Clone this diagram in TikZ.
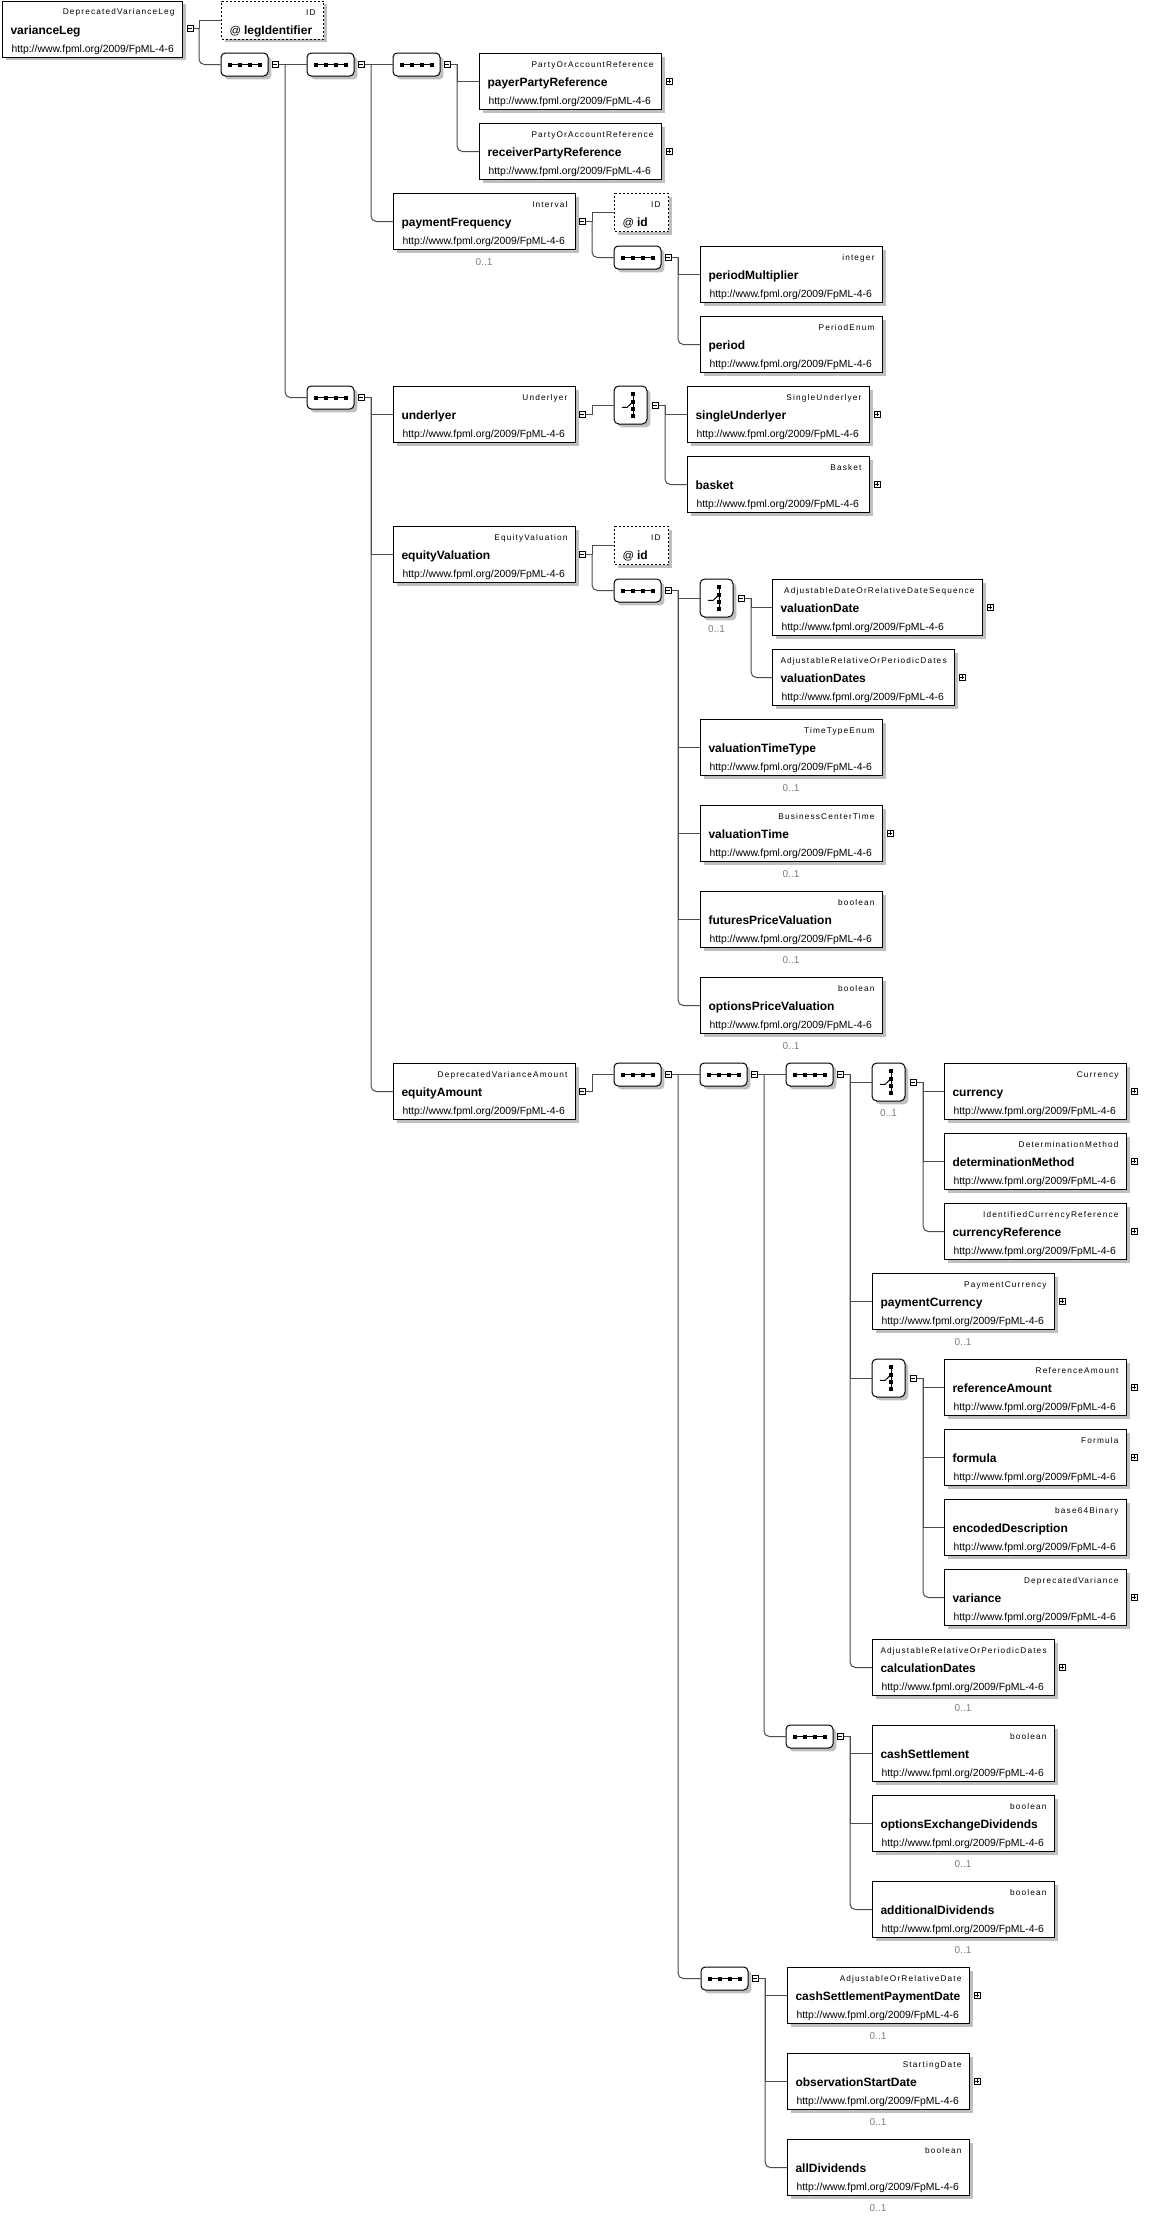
\documentclass[tikz,border=0pt]{standalone}
\usepackage{fontspec}
\setmainfont{Liberation Sans}
\newfontfamily\typefam[LetterSpace=14]{Liberation Sans}
\newcommand\typef{\typefam\fontsize{6.2pt}{7pt}\selectfont}
\newcommand\namef{\fontsize{9pt}{10pt}\selectfont\bfseries}
\newcommand\urlf{\fontsize{7.8pt}{9pt}\selectfont}
\usepackage{tikz}
\usetikzlibrary{shadows}
\pgfdeclarelayer{bg}
\pgfsetlayers{bg,main}

\newcommand\elbox[3][124.5pt]{%
  \vbox to 42pt{\offinterlineskip
    \vskip 10.25pt\hbox to #1{\hfill\smash{\typef #2}}%
    \vskip 14.5pt\hbox to #1{\smash{\namef #3}\hfill}%
    \vskip 13.5pt\hbox to #1{\kern0.75pt\smash{\urlf http://www.fpml.org/2009/FpML-4-6}\hfill}%
    \vss}}
\newcommand\atbox[2]{%
  \vbox to 28.5pt{\offinterlineskip
    \vskip 10.5pt\hbox to #1{\hfill\smash{\typef ID}}%
    \vskip 14.5pt\hbox to #1{\smash{\fontsize{8.5pt}{9pt}\selectfont @\ \namef #2}\hfill}%
    \vss}}

\begin{document}
\begin{tikzpicture}[x=0.75pt, y=-0.75pt,
    boxshadow/.style={drop shadow={shadow xshift=2.6pt, shadow yshift=-2.6pt, opacity=1, fill=black!25}},
    elembox/.style={draw, line width=0.75pt, fill=white, anchor=north west, inner xsep=6pt, inner ysep=0pt, boxshadow},
    attrbox/.style={elembox, dash pattern=on 1.5pt off 1.5pt},
    seqbox/.style={rectangle, rounded corners=3.2pt, draw, line width=0.75pt, fill=white,
        inner sep=0pt, minimum width=35.25pt, minimum height=17.25pt, boxshadow,
        path picture={
          \draw[black, line width=0.75pt, sharp corners] ([xshift=-11.25pt]path picture bounding box.center) -- ([xshift=11.25pt]path picture bounding box.center);
          \foreach \i in {-11.25,-3.75,3.75,11.25}
            \fill[black, sharp corners] ([shift={(\i pt-1.5pt,-1.5pt)}]path picture bounding box.center) rectangle ++(3pt,3pt);}},
    choicebox/.style={rectangle, rounded corners=3.6pt, draw, line width=0.75pt, fill=white,
        inner sep=0pt, minimum width=24.75pt, minimum height=28.5pt, boxshadow,
        path picture={
          \draw[black, line width=0.75pt, sharp corners] ([shift={(2pt,8.6pt)}]path picture bounding box.center) -- ([shift={(2pt,-8.8pt)}]path picture bounding box.center);
          \draw[black, line width=0.75pt, sharp corners] ([shift={(-6.5pt,-1.7pt)}]path picture bounding box.center) -- ([shift={(-2.5pt,-1.7pt)}]path picture bounding box.center) -- ([shift={(2pt,2.6pt)}]path picture bounding box.center);
          \foreach \j in {8.3,2.6,-3,-8.6}
            \fill[black, sharp corners] ([shift={(0.5pt,\j pt-1.5pt)}]path picture bounding box.center) rectangle ++(3pt,3pt);}},
    minusbox/.style={draw, line width=0.75pt, fill=white, inner sep=0pt, minimum size=4.5pt,
        path picture={
          \draw[black, line width=0.75pt] ([xshift=-1.5pt]path picture bounding box.center) -- ([xshift=1.5pt]path picture bounding box.center);}},
    plusbox/.style={draw, line width=0.75pt, fill=white, inner sep=0pt, minimum size=4.5pt,
        path picture={
          \draw[black, line width=0.75pt] ([xshift=-1.5pt]path picture bounding box.center) -- ([xshift=1.5pt]path picture bounding box.center);
          \draw[black, line width=0.75pt] ([yshift=-1.5pt]path picture bounding box.center) -- ([yshift=1.5pt]path picture bounding box.center);}},
    conn/.style={draw=black!70, line width=0.75pt},
    occ/.style={text=black!50, inner sep=0pt, font=\fontsize{7.5pt}{8pt}\selectfont}]

    \useasboundingbox (0,0) rectangle (1167,2217);
    \begin{pgfonlayer}{bg}    % white page behind everything
        \fill [white] (0,0) rectangle (1167,2217);
    \end{pgfonlayer}

    % root and first sequences
    \node [elembox] (leg) at (2,0.5) { \elbox[123pt]{DeprecatedVarianceLeg}{varianceLeg} };
    \node [minusbox] (mLeg) at (190,28.5) {};
    \node [attrbox] (legId) at (221,0.5) { \atbox{64.5pt}{legIdentifier} };
    \node [seqbox] (seq1) at (244.5,64.5) {};
    \node [minusbox] (mSeq1) at (275,64.5) {};
    \node [seqbox] (seq2) at (330.5,64.5) {};
    \node [minusbox] (mSeq2) at (361,64.5) {};
    \node [seqbox] (seq3) at (416.5,64.5) {};
    \node [minusbox] (mSeq3) at (447,64.5) {};
    \node [elembox] (payer) at (479,53) { \elbox{PartyOrAccountReference}{payerPartyReference} };
    \node [plusbox] (pPayer) at (669,81) {};
    \node [elembox] (receiver) at (479,123) { \elbox{PartyOrAccountReference}{receiverPartyReference} };
    \node [plusbox] (pReceiver) at (669,151) {};

    % paymentFrequency
    \node [elembox] (payFreq) at (393,193) { \elbox{Interval}{paymentFrequency} };
    \node [occ] (oPf) at (484,262) {0..1};
    \node [minusbox] (mPf) at (582,221) {};
    \node [attrbox] (pfId) at (614,193) { \atbox{28.5pt}{id} };
    \node [seqbox] (pfSeq) at (637.5,257.5) {};
    \node [minusbox] (mPfSeq) at (668,257.5) {};
    \node [elembox] (perMult) at (700,246) { \elbox{integer}{periodMultiplier} };
    \node [elembox] (period) at (700,316) { \elbox{PeriodEnum}{period} };

    % underlyer
    \node [seqbox] (seqB1) at (330.5,397.5) {};
    \node [minusbox] (mSeqB1) at (361,397.5) {};
    \node [elembox] (underlyer) at (393,386) { \elbox{Underlyer}{underlyer} };
    \node [minusbox] (mUnd) at (582,414) {};
    \node [choicebox] (chU) at (630.5,405) {};
    \node [minusbox] (mChU) at (655,405) {};
    \node [elembox] (single) at (687,386) { \elbox{SingleUnderlyer}{singleUnderlyer} };
    \node [plusbox] (pSingle) at (877,414) {};
    \node [elembox] (basket) at (687,456) { \elbox{Basket}{basket} };
    \node [plusbox] (pBasket) at (877,484) {};

    % equityValuation
    \node [elembox] (eqVal) at (393,526) { \elbox{EquityValuation}{equityValuation} };
    \node [minusbox] (mEv) at (582,554) {};
    \node [attrbox] (evId) at (614,526) { \atbox{28.5pt}{id} };
    \node [seqbox] (evSeq) at (637.5,590.5) {};
    \node [minusbox] (mEvSeq) at (668,590.5) {};
    \node [choicebox] (chV) at (716.5,598) {};
    \node [occ] (oChV) at (716.5,629) {0..1};
    \node [minusbox] (mChV) at (741,598) {};
    \node [elembox] (valDate) at (772,579) { \elbox[145.5pt]{AdjustableDateOrRelativeDateSequence}{valuationDate} };
    \node [plusbox] (pValDate) at (990,607) {};
    \node [elembox] (valDates) at (772,649) { \elbox{AdjustableRelativeOrPeriodicDates}{valuationDates} };
    \node [plusbox] (pValDates) at (962,677) {};
    \node [elembox] (valTT) at (700,719) { \elbox{TimeTypeEnum}{valuationTimeType} };
    \node [occ] (oVtt) at (791,788) {0..1};
    \node [elembox] (valTime) at (700,805) { \elbox{BusinessCenterTime}{valuationTime} };
    \node [plusbox] (pValTime) at (890,833) {};
    \node [occ] (oVt) at (791,874) {0..1};
    \node [elembox] (futPV) at (700,891) { \elbox{boolean}{futuresPriceValuation} };
    \node [occ] (oFpv) at (791,960) {0..1};
    \node [elembox] (optPV) at (700,977) { \elbox{boolean}{optionsPriceValuation} };
    \node [occ] (oOpv) at (791,1046) {0..1};

    % equityAmount
    \node [elembox] (eqAmt) at (393,1063) { \elbox{DeprecatedVarianceAmount}{equityAmount} };
    \node [minusbox] (mEa) at (582,1091) {};
    \node [seqbox] (seqA) at (637.5,1074.5) {};
    \node [minusbox] (mSeqA) at (668,1074.5) {};
    \node [seqbox] (seqB) at (723.5,1074.5) {};
    \node [minusbox] (mSeqB) at (754,1074.5) {};
    \node [seqbox] (seqC) at (809.5,1074.5) {};
    \node [minusbox] (mSeqC) at (840,1074.5) {};
    \node [choicebox] (chC) at (888.5,1082) {};
    \node [occ] (oChC) at (888.5,1113) {0..1};
    \node [minusbox] (mChC) at (913,1082) {};
    \node [elembox] (currency) at (944,1063) { \elbox{Currency}{currency} };
    \node [plusbox] (pCurrency) at (1134,1091) {};
    \node [elembox] (detMeth) at (944,1133) { \elbox{DeterminationMethod}{determinationMethod} };
    \node [plusbox] (pDetMeth) at (1134,1161) {};
    \node [elembox] (curRef) at (944,1203) { \elbox{IdentifiedCurrencyReference}{currencyReference} };
    \node [plusbox] (pCurRef) at (1134,1231) {};
    \node [elembox] (payCur) at (872,1273) { \elbox{PaymentCurrency}{paymentCurrency} };
    \node [plusbox] (pPayCur) at (1062,1301) {};
    \node [occ] (oPayCur) at (963,1342) {0..1};
    \node [choicebox] (chR) at (888.5,1378) {};
    \node [minusbox] (mChR) at (913,1378) {};
    \node [elembox] (refAmt) at (944,1359) { \elbox{ReferenceAmount}{referenceAmount} };
    \node [plusbox] (pRefAmt) at (1134,1387) {};
    \node [elembox] (formula) at (944,1429) { \elbox{Formula}{formula} };
    \node [plusbox] (pFormula) at (1134,1457) {};
    \node [elembox] (encDesc) at (944,1499) { \elbox{base64Binary}{encodedDescription} };
    \node [elembox] (variance) at (944,1569) { \elbox{DeprecatedVariance}{variance} };
    \node [plusbox] (pVariance) at (1134,1597) {};
    \node [elembox] (calcDates) at (872,1639) { \elbox{AdjustableRelativeOrPeriodicDates}{calculationDates} };
    \node [plusbox] (pCalcDates) at (1062,1667) {};
    \node [occ] (oCalc) at (963,1708) {0..1};
    \node [seqbox] (seqD) at (809.5,1736.5) {};
    \node [minusbox] (mSeqD) at (840,1736.5) {};
    \node [elembox] (cashSet) at (872,1725) { \elbox{boolean}{cashSettlement} };
    \node [elembox] (optExDiv) at (872,1795) { \elbox{boolean}{optionsExchangeDividends} };
    \node [occ] (oOed) at (963,1864) {0..1};
    \node [elembox] (addDiv) at (872,1881) { \elbox{boolean}{additionalDividends} };
    \node [occ] (oAd) at (963,1950) {0..1};
    \node [seqbox] (seqE) at (724.5,1978.5) {};
    \node [minusbox] (mSeqE) at (755,1978.5) {};
    \node [elembox] (cspDate) at (787,1967) { \elbox{AdjustableOrRelativeDate}{cashSettlementPaymentDate} };
    \node [plusbox] (pCspDate) at (977,1995) {};
    \node [occ] (oCsp) at (878,2036) {0..1};
    \node [elembox] (obsStart) at (787,2053) { \elbox{StartingDate}{observationStartDate} };
    \node [plusbox] (pObsStart) at (977,2081) {};
    \node [occ] (oObs) at (878,2122) {0..1};
    \node [elembox] (allDiv) at (787,2139) { \elbox{boolean}{allDividends} };
    \node [occ] (oAll) at (878,2208) {0..1};

    % connectors
    \draw [conn] (mLeg.east) -- ++(5.5,0) coordinate (vLeg) |- (legId.west);
    \draw [conn, rounded corners=4pt] (vLeg) |- (seq1.west);
    \draw [conn] (mSeq1.east) -- ++(6.5,0) coordinate (vSeq1) |- (seq2.west);
    \draw [conn, rounded corners=4pt] (vSeq1) |- (seqB1.west);
    \draw [conn] (mSeq2.east) -- ++(6.5,0) coordinate (vSeq2) |- (seq3.west);
    \draw [conn, rounded corners=4pt] (vSeq2) |- (payFreq.west);
    \draw [conn] (mSeq3.east) -- ++(6.5,0) coordinate (vSeq3) |- (payer.west);
    \draw [conn, rounded corners=4pt] (vSeq3) |- (receiver.west);
    \draw [conn] (mPf.east) -- ++(6.5,0) coordinate (vPf) |- (pfId.west);
    \draw [conn, rounded corners=4pt] (vPf) |- (pfSeq.west);
    \draw [conn] (mPfSeq.east) -- ++(6.5,0) coordinate (vPfSeq) |- (perMult.west);
    \draw [conn, rounded corners=4pt] (vPfSeq) |- (period.west);
    \draw [conn] (mSeqB1.east) -- ++(6.5,0) coordinate (vSeqB1) |- (underlyer.west);
    \draw [conn] (vSeqB1) |- (eqVal.west);
    \draw [conn, rounded corners=4pt] (vSeqB1) |- (eqAmt.west);
    \draw [conn] (mUnd.east) -- ++(6.5,0) |- (chU.west);
    \draw [conn] (mChU.east) -- ++(6.5,0) coordinate (vChU) |- (single.west);
    \draw [conn, rounded corners=4pt] (vChU) |- (basket.west);
    \draw [conn] (mEv.east) -- ++(6.5,0) coordinate (vEv) |- (evId.west);
    \draw [conn, rounded corners=4pt] (vEv) |- (evSeq.west);
    \draw [conn] (mEvSeq.east) -- ++(6.5,0) coordinate (vEvSeq) |- (chV.west);
    \draw [conn] (vEvSeq) |- (valTT.west);
    \draw [conn] (vEvSeq) |- (valTime.west);
    \draw [conn] (vEvSeq) |- (futPV.west);
    \draw [conn, rounded corners=4pt] (vEvSeq) |- (optPV.west);
    \draw [conn] (mChV.east) -- ++(6.5,0) coordinate (vChV) |- (valDate.west);
    \draw [conn, rounded corners=4pt] (vChV) |- (valDates.west);
    \draw [conn] (mEa.east) -- ++(6.5,0) |- (seqA.west);
    \draw [conn] (mSeqA.east) -- ++(6.5,0) coordinate (vSeqA) |- (seqB.west);
    \draw [conn, rounded corners=4pt] (vSeqA) |- (seqE.west);
    \draw [conn] (mSeqB.east) -- ++(6.5,0) coordinate (vSeqB) |- (seqC.west);
    \draw [conn, rounded corners=4pt] (vSeqB) |- (seqD.west);
    \draw [conn] (mSeqC.east) -- ++(6.5,0) coordinate (vSeqC) |- (chC.west);
    \draw [conn] (vSeqC) |- (payCur.west);
    \draw [conn] (vSeqC) |- (chR.west);
    \draw [conn, rounded corners=4pt] (vSeqC) |- (calcDates.west);
    \draw [conn] (mChC.east) -- ++(6.5,0) coordinate (vChC) |- (currency.west);
    \draw [conn] (vChC) |- (detMeth.west);
    \draw [conn, rounded corners=4pt] (vChC) |- (curRef.west);
    \draw [conn] (mChR.east) -- ++(6.5,0) coordinate (vChR) |- (refAmt.west);
    \draw [conn] (vChR) |- (formula.west);
    \draw [conn] (vChR) |- (encDesc.west);
    \draw [conn, rounded corners=4pt] (vChR) |- (variance.west);
    \draw [conn] (mSeqD.east) -- ++(6.5,0) coordinate (vSeqD) |- (cashSet.west);
    \draw [conn] (vSeqD) |- (optExDiv.west);
    \draw [conn, rounded corners=4pt] (vSeqD) |- (addDiv.west);
    \draw [conn] (mSeqE.east) -- ++(6.5,0) coordinate (vSeqE) |- (cspDate.west);
    \draw [conn] (vSeqE) |- (obsStart.west);
    \draw [conn, rounded corners=4pt] (vSeqE) |- (allDiv.west);
\end{tikzpicture}
\end{document}
